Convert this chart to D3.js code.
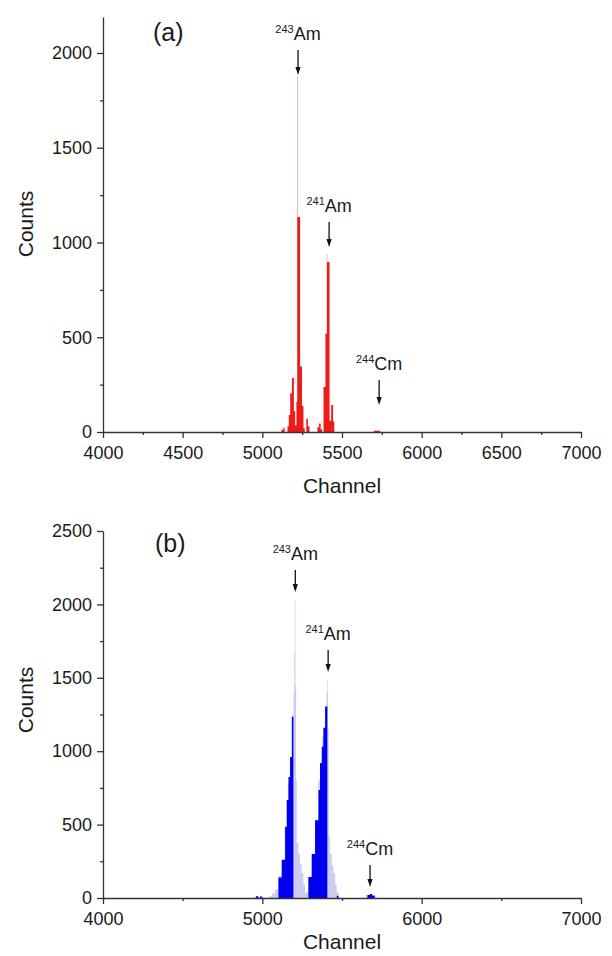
<!DOCTYPE html>
<html>
<head>
<meta charset="utf-8">
<script src="https://cdn.jsdelivr.net/npm/d3@7"></script>
<style>
  body { margin: 0; background: #fff; }
  text { font-family: "Liberation Sans", Arial, sans-serif; fill: #1a1a1a; }
</style>
</head>
<body>
<svg id="chart"></svg>
<script>
// ---- data: [channel start, channel end, counts] ----
const redBins = [
  [5120, 5132, 12], [5132, 5140, 22], [5158, 5166, 30], [5166, 5175, 90],
  [5175, 5186, 205], [5186, 5198, 285], [5198, 5206, 110], [5206, 5214, 35],
  [5214, 5219, 160], [5219, 5221, 1880], [5221, 5237, 1135], [5237, 5249, 345],
  [5249, 5258, 137], [5258, 5266, 20], [5276, 5286, 70], [5286, 5296, 30],
  [5346, 5356, 25], [5356, 5366, 45], [5366, 5376, 15], [5384, 5396, 237],
  [5396, 5405, 520], [5405, 5407, 940], [5407, 5422, 897], [5422, 5432, 60],
  [5432, 5444, 142], [5444, 5452, 55], [5700, 5740, 6]
];
const lavenderBins = [
  [4950, 4990, 8], [5040, 5060, 12], [5060, 5080, 30], [5080, 5100, 60],
  [5100, 5120, 150], [5120, 5140, 250], [5140, 5160, 480], [5160, 5175, 780],
  [5175, 5190, 950], [5190, 5196, 1250], [5196, 5200, 1400], [5200, 5204, 1680],
  [5204, 5208, 2030], [5208, 5212, 1450], [5212, 5216, 800], [5216, 5226, 375],
  [5226, 5236, 300], [5236, 5247, 230], [5247, 5258, 170], [5258, 5268, 90],
  [5268, 5278, 35], [5278, 5290, 40], [5290, 5310, 120], [5310, 5330, 260],
  [5330, 5350, 480], [5350, 5375, 800], [5375, 5395, 1100], [5395, 5402, 1300],
  [5402, 5408, 1400], [5408, 5412, 1485], [5412, 5417, 1150], [5417, 5425, 420],
  [5425, 5436, 300], [5436, 5446, 220], [5446, 5457, 170], [5457, 5467, 90],
  [5467, 5478, 40], [5650, 5710, 20]
];
const blueBins = [
  [4960, 4975, 12], [4985, 5000, 10], [5101, 5122, 140], [5122, 5143, 260],
  [5143, 5153, 485], [5153, 5164, 667], [5164, 5174, 824], [5174, 5185, 960],
  [5185, 5195, 1235], [5289, 5310, 143], [5310, 5331, 300], [5331, 5352, 530],
  [5352, 5362, 735], [5362, 5373, 920], [5373, 5383, 1030], [5383, 5394, 1160],
  [5394, 5408, 1305], [5467, 5478, 15], [5660, 5675, 20], [5675, 5690, 28],
  [5690, 5705, 15]
];

// ---- annotations: mass number, element, channel, arrow tip (counts) ----
const topPeaks = [
  ["243", "Am", 5224, 1884],
  ["241", "Am", 5419, 976],
  ["244", "Cm", 5733, 142]
];
const bottomPeaks = [
  ["243", "Am", 5207, 2084],
  ["241", "Am", 5413, 1540],
  ["244", "Cm", 5676, 75]
];

const xTicksTop = d3.range(4000, 7001, 500);
const xTicksBottom = d3.range(4000, 7001, 1000);

const W = 612, H = 956;
const svg = d3.select("#chart").attr("width", W).attr("height", H);

// turn bins into a closed step outline
function stepPoints(bins) {
  const pts = [];
  bins.forEach(b => {
    pts.push([b[0], 0], [b[0], b[2]], [b[1], b[2]], [b[1], 0]);
  });
  return pts;
}

function drawPanel(cfg) {
  const x = d3.scaleLinear().domain([4000, 7000]).range([103, 581]);
  const y = d3.scaleLinear().domain([0, cfg.yMax]).range([cfg.bottom, cfg.top]);
  const g = svg.append("g");

  const area = d3.area().x(d => x(d[0])).y0(y(0)).y1(d => y(d[1]));
  cfg.layers.forEach(l => {
    g.append("path").datum(stepPoints(l.bins))
      .attr("d", area)
      .attr("fill", l.color);
  });

  // minor ticks
  const xMinor = d3.range(4000, 7001, cfg.xMajor / 2).filter(v => !cfg.xTicks.includes(v));
  const yMinor = d3.range(250, cfg.yMax, 500);
  g.append("g").attr("transform", `translate(0,${cfg.bottom})`)
    .call(d3.axisBottom(x).tickValues(xMinor).tickSize(3).tickFormat(""))
    .call(a => a.select(".domain").remove());
  g.append("g").attr("transform", `translate(103,0)`)
    .call(d3.axisLeft(y).tickValues(yMinor).tickSize(3).tickFormat(""))
    .call(a => a.select(".domain").remove());

  // major axes
  const xa = g.append("g").attr("transform", `translate(0,${cfg.bottom})`)
    .call(d3.axisBottom(x).tickValues(cfg.xTicks).tickSize(6).tickSizeOuter(0)
      .tickPadding(8).tickFormat(d3.format("d")));
  const ya = g.append("g").attr("transform", `translate(103,0)`)
    .call(d3.axisLeft(y).tickValues(d3.range(0, cfg.yMax + 1, 500)).tickSize(6)
      .tickSizeOuter(0).tickPadding(5).tickFormat(d3.format("d")));
  g.selectAll(".tick line, .domain").attr("stroke", "#333").attr("stroke-width", 1.3);
  [xa, ya].forEach(a => a.selectAll("text")
    .attr("font-size", 18).attr("font-family", "Liberation Sans, Arial, sans-serif")
    .attr("fill", "#1a1a1a"));

  // axis titles
  g.append("text").attr("x", 342).attr("y", cfg.bottom + cfg.titleGap)
    .attr("text-anchor", "middle").attr("font-size", 21).text("Channel");
  g.append("text")
    .attr("transform", `translate(33,${cfg.countsY}) rotate(-90)`)
    .attr("text-anchor", "middle").attr("font-size", 21).text("Counts");

  // panel letter
  g.append("text").attr("x", cfg.letterX).attr("y", cfg.letterY)
    .attr("font-family", "Liberation Serif, Times New Roman, serif")
    .attr("font-size", 25).text(cfg.letter);

  // peak annotations
  cfg.peaks.forEach(p => {
    const px = x(p[2]), tip = y(p[3]), top = tip - cfg.arrowLen;
    g.append("line").attr("x1", px).attr("x2", px).attr("y1", top).attr("y2", tip - 5)
      .attr("stroke", "#111").attr("stroke-width", 1.3);
    g.append("path")
      .attr("d", `M${px - 2.6},${tip - 8} L${px + 2.6},${tip - 8} L${px},${tip} Z`)
      .attr("fill", "#111");
    const t = g.append("text").attr("x", px).attr("y", top - 10)
      .attr("text-anchor", "middle").attr("font-size", 18);
    t.append("tspan").attr("font-size", 11).attr("dy", -7).text(p[0]);
    t.append("tspan").attr("dy", 7).text(p[1]);
  });
}

drawPanel({
  top: 17, bottom: 432, yMax: 2190, xMajor: 500, xTicks: xTicksTop,
  layers: [{ bins: redBins, color: "#ee1b1b" }],
  titleGap: 61, countsY: 224, letter: "(a)", letterX: 153, letterY: 41,
  peaks: topPeaks, arrowLen: 25
});

drawPanel({
  top: 531, bottom: 898, yMax: 2500, xMajor: 1000, xTicks: xTicksBottom,
  layers: [{ bins: lavenderBins, color: "#cdcdf4" }, { bins: blueBins, color: "#0000ee" }],
  titleGap: 51, countsY: 700, letter: "(b)", letterX: 155, letterY: 552,
  peaks: bottomPeaks, arrowLen: 22
});
</script>
</body>
</html>
